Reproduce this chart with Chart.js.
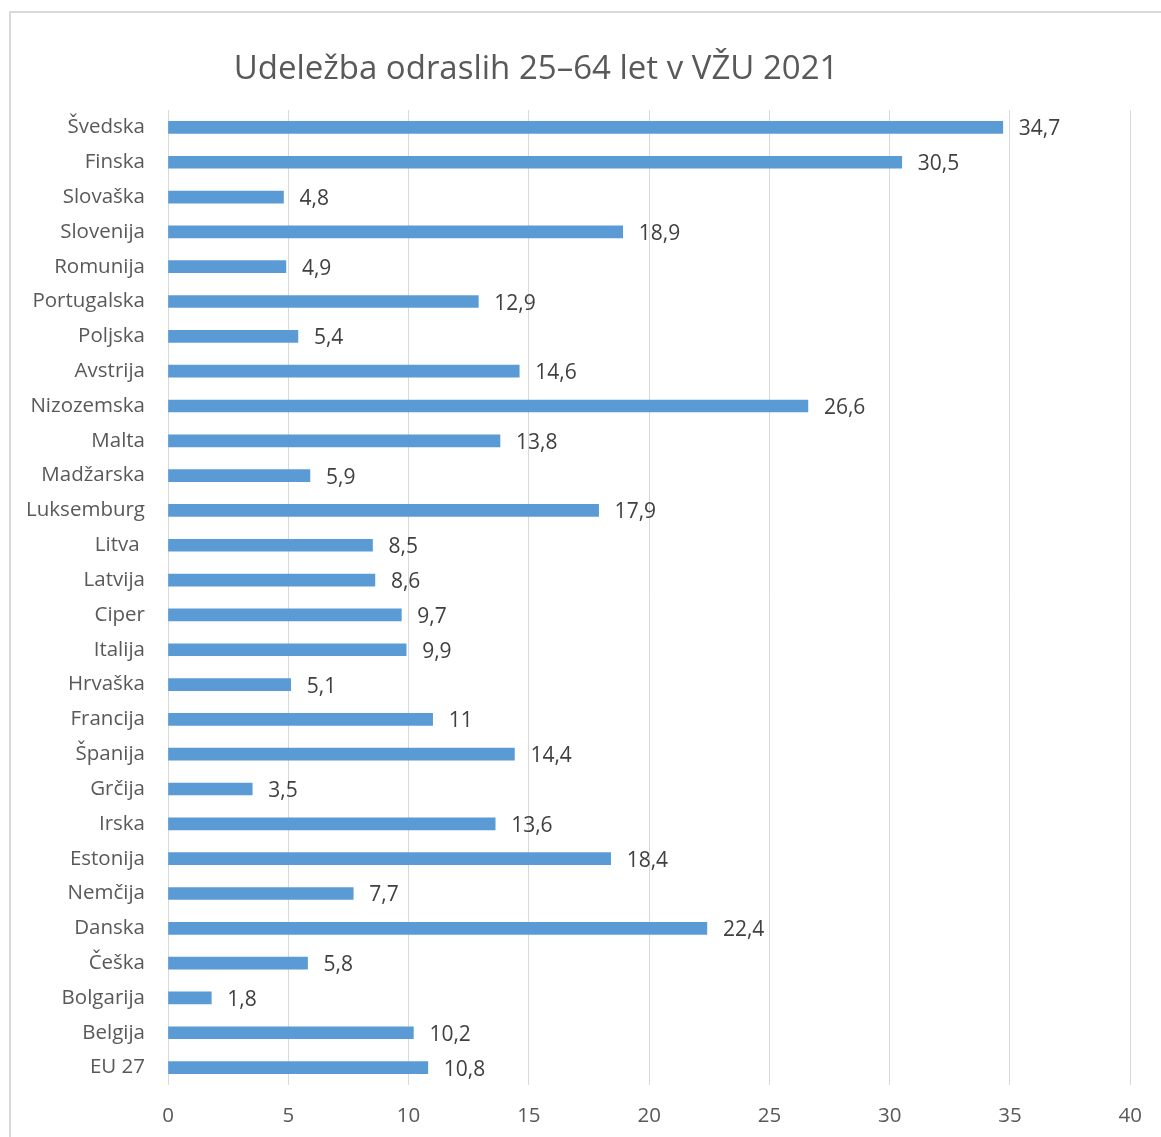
<!DOCTYPE html>
<html>
<head>
<meta charset="utf-8">
<script src="https://cdn.jsdelivr.net/npm/chart.js@4"></script>
<style>
  html, body { margin: 0; padding: 0; background: #fff; }
  #wrap { width: 1161px; height: 1137px; position: relative; }
</style>
</head>
<body>
<div id="wrap"><canvas id="chart" width="1161" height="1137"></canvas></div>
<script>
// Data
var countries = ['Švedska', 'Finska', 'Slovaška', 'Slovenija', 'Romunija', 'Portugalska', 'Poljska',
    'Avstrija', 'Nizozemska', 'Malta', 'Madžarska', 'Luksemburg', 'Litva ', 'Latvija', 'Ciper',
    'Italija', 'Hrvaška', 'Francija', 'Španija', 'Grčija', 'Irska', 'Estonija', 'Nemčija',
    'Danska', 'Češka', 'Bolgarija', 'Belgija', 'EU 27'];
var participation = [34.7, 30.5, 4.8, 18.9, 4.9, 12.9, 5.4, 14.6, 26.6, 13.8, 5.9, 17.9, 8.5, 8.6, 9.7,
    9.9, 5.1, 11, 14.4, 3.5, 13.6, 18.4, 7.7, 22.4, 5.8, 1.8, 10.2, 10.8];
var xTicks = [0, 5, 10, 15, 20, 25, 30, 35, 40];
var chartTitle = 'Udeležba odraslih 25–64 let v VŽU 2021';

var FONT = '"Open Sans", "DejaVu Sans", sans-serif';

// Frame + title + value labels
var extras = {
    id: 'extras',
    beforeDraw: function(chart) {
        var ctx = chart.ctx;
        ctx.save();
        ctx.strokeStyle = '#d9d9d9';
        ctx.lineWidth = 2;
        ctx.strokeRect(10, 12, 2000, 2000);
        ctx.fillStyle = '#595959';
        ctx.font = '33px ' + FONT;
        ctx.textAlign = 'center';
        ctx.textBaseline = 'middle';
        ctx.fillText(chartTitle, 536, 70);
        ctx.restore();
    },
    afterDatasetsDraw: function(chart) {
        var ctx = chart.ctx;
        var meta = chart.getDatasetMeta(0);
        ctx.save();
        ctx.fillStyle = '#404040';
        ctx.font = '21px ' + FONT;
        ctx.textAlign = 'left';
        ctx.textBaseline = 'middle';
        meta.data.forEach(function(bar, i) {
            var txt = String(participation[i]).replace('.', ',');
            ctx.fillText(txt, bar.x + 16, bar.y + 2);
        });
        ctx.restore();
    }
};

new Chart(document.getElementById('chart'), {
    type: 'bar',
    data: {
        labels: countries,
        datasets: [{
            data: participation,
            backgroundColor: '#5b9bd5',
            barThickness: 12
        }]
    },
    options: {
        indexAxis: 'y',
        responsive: false,
        animation: false,
        layout: { padding: { top: 110, right: 29, left: 0, bottom: 0 } },
        plugins: {
            legend: { display: false },
            tooltip: { enabled: false },
            title: { display: false }
        },
        scales: {
            x: {
                min: 0,
                max: 40,
                afterBuildTicks: function(scale) {
                    scale.ticks = xTicks.map(function(v) { return { value: v }; });
                },
                afterFit: function(scale) { scale.height = 52; },
                grid: { color: '#d9d9d9', lineWidth: 1, drawTicks: false },
                border: { display: false },
                ticks: { color: '#595959', font: { family: FONT, size: 20.5 }, padding: 19 }
            },
            y: {
                afterFit: function(scale) { scale.width = 168; },
                grid: { display: false, drawTicks: false },
                border: { display: false },
                ticks: { color: '#595959', font: { family: FONT, size: 20.5 }, padding: 23 }
            }
        }
    },
    plugins: [extras]
});
</script>
</body>
</html>
